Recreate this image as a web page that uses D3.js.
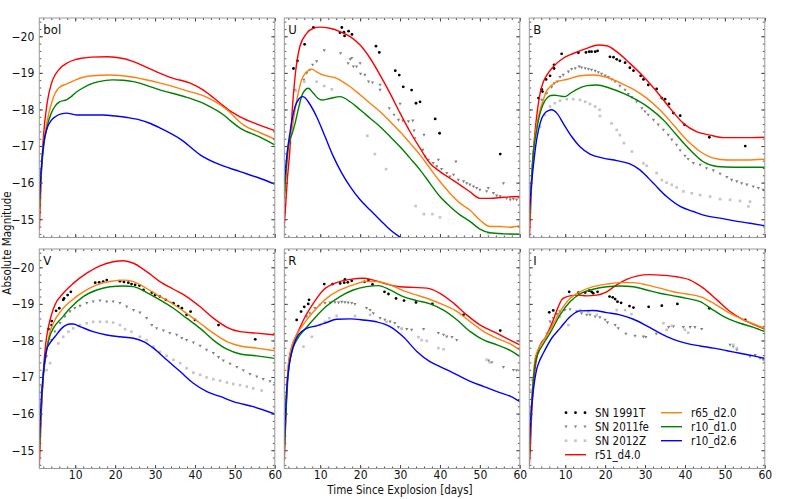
<!DOCTYPE html>
<html>
<head>
<meta charset="utf-8">
<script src="https://cdn.jsdelivr.net/npm/d3@7"></script>
<style>
  body { margin: 0; background: #fff; }
  text { font-family: "DejaVu Sans Condensed", "DejaVu Sans", sans-serif; font-stretch: condensed; fill: #111; }
</style>
</head>
<body>
<div id="chart"></div>
<script>
// bands and models
const bands = ["bol", "U", "B", "V", "R", "I"];
const modelNames = ["r51_d4.0", "r65_d2.0", "r10_d1.0", "r10_d2.6"];
const modelColors = ["#ff0000", "#ff7f0e", "#008000", "#0000ff"];
const obsNames = ["SN 1991T", "SN 2011fe", "SN 2012Z"];
const obsColors = ["#000000", "#808080", "#c4c4c4"];
const xTicks = [10, 20, 30, 40, 50, 60];
const yTicks = [-20, -19, -18, -17, -16, -15];

// model light curves, [day, absolute magnitude]
const bol_r51 = [[1,-14.7],[1.5,-16.2],[2,-17.2],[3,-18.2],[4,-18.7],[5,-18.95],[6,-19.1],[8,-19.27],[10,-19.36],[11.6,-19.4],[14,-19.43],[17.9,-19.44],[20.5,-19.42],[24.6,-19.31],[27.5,-19.17],[30.4,-19.03],[34.6,-18.85],[38.8,-18.72],[42.1,-18.53],[46.3,-18.17],[48.5,-17.98],[51.3,-17.8],[55.5,-17.6],[60,-17.42]];
const bol_r65 = [[1,-15.2],[1.5,-16.3],[2,-17.0],[3,-17.7],[4,-18.15],[5,-18.45],[6,-18.6],[7.9,-18.7],[10.1,-18.81],[12,-18.88],[14.3,-18.92],[18.4,-18.94],[24.6,-18.88],[31.3,-18.72],[38,-18.51],[43,-18.33],[46,-18.15],[48,-17.99],[52.1,-17.58],[56.2,-17.37],[60,-17.19]];
const bol_r10d1 = [[1,-15.3],[1.5,-16.3],[2,-16.9],[3,-17.55],[4,-17.9],[5,-18.1],[6,-18.2],[7.9,-18.27],[9,-18.35],[10,-18.45],[11.8,-18.58],[13.5,-18.68],[15.9,-18.76],[19.3,-18.81],[22,-18.8],[24.6,-18.76],[31.3,-18.53],[38,-18.33],[43,-18.12],[47.2,-17.85],[49,-17.68],[51.3,-17.49],[56.2,-17.25],[60,-17.03]];
const bol_r10d26 = [[1,-15.5],[1.5,-16.4],[2,-17.0],[3,-17.5],[4,-17.7],[5,-17.8],[6.5,-17.88],[7.9,-17.9],[9,-17.88],[10.4,-17.85],[14,-17.85],[17,-17.85],[20.1,-17.82],[23,-17.78],[26.3,-17.71],[28.5,-17.63],[31.3,-17.49],[36.6,-17.17],[41.3,-16.76],[45.3,-16.53],[51.3,-16.3],[56.2,-16.12],[60,-15.96]];

const U_r51 = [[1,-14.8],[1.7,-16.0],[2.4,-16.9],[3,-18.0],[3.7,-18.9],[4.9,-19.72],[6.6,-20.08],[8.3,-20.22],[9.9,-20.25],[12.4,-20.22],[14.95,-20.13],[17.5,-19.99],[20,-19.76],[22.5,-19.4],[25,-18.94],[27.5,-18.44],[30,-17.9],[32.5,-17.39],[35,-16.94],[37.5,-16.53],[40,-16.3],[42.5,-16.12],[45,-15.94],[47.5,-15.75],[50,-15.57],[52.5,-15.57],[55.9,-15.6],[60,-15.62]];
const U_r65 = [[1,-15.5],[2,-16.9],[3,-17.5],[3.7,-18.0],[4.5,-18.45],[5.3,-18.8],[6.6,-19.03],[7.9,-19.1],[9.1,-19.03],[10.8,-18.94],[14.1,-18.85],[17.5,-18.62],[20,-18.4],[22.5,-18.17],[25,-17.94],[27.5,-17.67],[30,-17.39],[32.5,-17.08],[35,-16.76],[37.5,-16.39],[40,-16.03],[42.5,-15.71],[45,-15.44],[47.5,-15.25],[50,-14.98],[52.5,-14.8],[55,-14.8],[57.5,-14.78],[60,-14.82]];
const U_r10d1 = [[1,-15.6],[2,-17.0],[3,-17.35],[3.7,-17.62],[4.5,-18.0],[5.3,-18.35],[6.1,-18.52],[7,-18.58],[8.3,-18.44],[9.5,-18.3],[10.4,-18.26],[12.4,-18.3],[14.95,-18.35],[17.5,-18.21],[20,-17.99],[22.5,-17.76],[25,-17.53],[27.5,-17.26],[30,-16.98],[32.5,-16.67],[35,-16.35],[37.5,-15.98],[40,-15.62],[42.5,-15.35],[45,-15.12],[47.5,-14.94],[50,-14.73],[52.5,-14.63],[56,-14.6],[60,-14.59]];
const U_r10d26 = [[1,-16.0],[1.7,-16.8],[2.4,-17.35],[3,-17.75],[3.7,-18.08],[4.6,-18.28],[5.5,-18.35],[6.2,-18.32],[7,-18.21],[9.1,-17.8],[11.2,-17.26],[13.3,-16.71],[15.4,-16.26],[17.5,-15.89],[20,-15.53],[22.5,-15.25],[25,-14.98],[27.5,-14.71],[30.4,-14.48],[32,-14.35]];

const B_r51 = [[1,-14.4],[1.3,-15.2],[1.8,-16.5],[2.4,-17.35],[3,-17.95],[3.7,-18.44],[4.5,-18.75],[5.4,-18.94],[7,-19.17],[9.5,-19.4],[12,-19.53],[15.4,-19.67],[18.3,-19.76],[20.4,-19.74],[22.9,-19.58],[26.2,-19.26],[29.6,-18.9],[32.9,-18.49],[36.3,-18.03],[39.6,-17.62],[43,-17.39],[46.3,-17.3],[49.7,-17.23],[53,-17.23],[56.3,-17.23],[60,-17.24]];
const B_r65 = [[1,-14.9],[1.5,-15.9],[2,-16.8],[2.8,-17.53],[3.6,-17.95],[4.5,-18.26],[5.3,-18.5],[6.2,-18.62],[7.9,-18.76],[10.4,-18.82],[13.7,-18.92],[17,-18.94],[20.4,-18.88],[23.7,-18.73],[27.1,-18.55],[30.4,-18.31],[33.7,-17.99],[37.1,-17.58],[40.4,-17.17],[43.8,-16.85],[47.1,-16.67],[50.5,-16.62],[55.5,-16.62],[60,-16.64]];
const B_r10d1 = [[1,-15.0],[1.5,-16.0],[2,-16.8],[2.8,-17.4],[3.7,-17.9],[4.5,-18.15],[5.4,-18.31],[6.4,-18.38],[7.4,-18.39],[8.6,-18.37],[9.9,-18.35],[11.4,-18.45],[12.9,-18.55],[15.4,-18.65],[17.9,-18.67],[21.2,-18.58],[24.6,-18.44],[27.9,-18.26],[31.2,-18.03],[34.6,-17.71],[37.9,-17.3],[41.3,-16.89],[44.6,-16.57],[48,-16.44],[52.1,-16.42],[60,-16.42]];
const B_r10d26 = [[1,-15.2],[1.5,-15.9],[2,-16.44],[2.6,-17.0],[3.3,-17.44],[4.1,-17.75],[4.9,-17.9],[5.8,-17.97],[6.6,-17.99],[7.9,-17.9],[9.5,-17.62],[11.6,-17.26],[13.7,-16.98],[16.2,-16.78],[19.5,-16.67],[22.9,-16.6],[26.2,-16.51],[28.7,-16.35],[32.1,-15.98],[35.4,-15.62],[38.8,-15.35],[42.1,-15.21],[45.4,-15.09],[48.8,-15.03],[52.1,-14.96],[56.3,-14.89],[60,-14.82]];

const V_r51 = [[1,-14.55],[1.5,-16.0],[2,-17.1],[2.6,-17.9],[3.3,-18.38],[4.1,-18.72],[4.9,-18.97],[7,-19.29],[9.5,-19.56],[12.9,-19.84],[16.2,-20.04],[19.5,-20.15],[22.1,-20.18],[24.6,-20.11],[27.9,-19.88],[31.2,-19.61],[34.6,-19.4],[37.9,-19.2],[41.3,-18.92],[44.6,-18.61],[48,-18.36],[51.3,-18.24],[55.5,-18.2],[60,-18.15]];
const V_r65 = [[1,-15.0],[1.5,-16.2],[2,-17.0],[2.8,-17.75],[3.6,-18.2],[4.5,-18.47],[6.6,-18.83],[8.7,-19.06],[12,-19.33],[15.4,-19.52],[18.7,-19.61],[22.1,-19.65],[24.6,-19.61],[27.9,-19.42],[31.2,-19.2],[34.6,-18.99],[37.9,-18.74],[41.3,-18.47],[44.6,-18.2],[48,-17.97],[51.3,-17.85],[55.5,-17.79],[60,-17.72]];
const V_r10d1 = [[1,-15.0],[1.5,-16.2],[2,-17.0],[2.8,-17.7],[3.6,-18.1],[4.5,-18.33],[6.6,-18.61],[8.7,-18.88],[12,-19.2],[15.4,-19.38],[18.7,-19.47],[22.1,-19.49],[24.6,-19.47],[27.9,-19.31],[31.2,-19.11],[34.6,-18.88],[37.9,-18.61],[41.3,-18.33],[44.6,-18.01],[48,-17.76],[51.3,-17.63],[55.5,-17.58],[60,-17.51]];
const V_r10d26 = [[1,-15.3],[1.5,-16.4],[2,-17.1],[2.8,-17.74],[3.8,-17.95],[4.9,-18.1],[6.6,-18.33],[8.7,-18.45],[9.5,-18.45],[11.2,-18.38],[14.5,-18.24],[17.9,-18.15],[21.2,-18.1],[24.6,-18.06],[27.1,-17.97],[29.6,-17.79],[32.9,-17.47],[36.3,-17.15],[39.6,-16.83],[43,-16.6],[46.3,-16.47],[49.6,-16.33],[54.6,-16.19],[60,-15.99]];

const R_r51 = [[1,-14.7],[1.2,-15.3],[1.6,-16.6],[2,-17.29],[2.8,-17.8],[3.7,-18.06],[4.7,-18.3],[5.8,-18.56],[8.3,-19.02],[10.8,-19.38],[14.1,-19.58],[17.5,-19.67],[20.8,-19.7],[23.3,-19.65],[26.7,-19.54],[30,-19.47],[33.3,-19.45],[36.7,-19.43],[40,-19.29],[43.4,-19.02],[46.7,-18.7],[50.1,-18.42],[53.4,-18.24],[56.7,-18.06],[60,-17.88]];
const R_r65 = [[1,-15.0],[1.5,-16.3],[2,-17.3],[2.4,-17.6],[3.2,-17.95],[4.1,-18.15],[6.6,-18.56],[9.1,-18.88],[11.6,-19.15],[14.95,-19.38],[18.3,-19.52],[21.6,-19.61],[24.1,-19.61],[27.5,-19.52],[30.8,-19.36],[34.2,-19.24],[37.5,-19.12],[40.9,-18.97],[44.3,-18.79],[47.6,-18.51],[51,-18.24],[54.3,-18.06],[57.7,-17.9],[60,-17.74]];
const R_r10d1 = [[1,-15.0],[1.5,-16.2],[2,-17.1],[2.4,-17.45],[3.2,-17.8],[4.1,-18.01],[6.6,-18.36],[9.1,-18.67],[11.6,-18.94],[14.95,-19.2],[18.3,-19.38],[21.6,-19.47],[24.6,-19.5],[27.5,-19.38],[30.8,-19.2],[34.2,-19.09],[37.5,-19.0],[40.9,-18.83],[44.3,-18.56],[47.6,-18.24],[51,-18.01],[54.3,-17.88],[57.7,-17.72],[60,-17.56]];
const R_r10d26 = [[1,-15.2],[1.6,-16.65],[2.2,-17.3],[2.8,-17.65],[3.6,-17.95],[4.5,-18.15],[6.6,-18.33],[9.1,-18.4],[11.6,-18.49],[14.1,-18.58],[17.5,-18.59],[20.8,-18.56],[24.1,-18.51],[27.5,-18.38],[30.8,-18.1],[34.2,-17.7],[37.5,-17.42],[40.9,-17.24],[44.3,-17.06],[47.6,-16.88],[51,-16.74],[54.3,-16.6],[57.7,-16.47],[60,-16.33]];

const I_r51 = [[1,-14.6],[1.2,-14.92],[1.6,-16.0],[2,-16.74],[2.6,-17.35],[3.3,-17.74],[4.1,-17.95],[4.9,-18.06],[6,-18.3],[7,-18.56],[8,-18.85],[9.1,-19.11],[10,-19.18],[11.2,-19.22],[13.3,-19.24],[15.4,-19.22],[17.9,-19.24],[20.4,-19.33],[22.9,-19.52],[25.4,-19.67],[27.9,-19.76],[31.2,-19.8],[34.6,-19.78],[37.9,-19.74],[41.3,-19.65],[44.6,-19.43],[48,-19.11],[51.3,-18.79],[54.7,-18.56],[58,-18.4],[60,-18.31]];
const I_r65 = [[1,-15.0],[1.5,-16.2],[2,-17.0],[2.4,-17.47],[3.2,-17.75],[4.1,-17.92],[6.2,-18.29],[8.7,-18.79],[11.2,-19.15],[13.7,-19.33],[17,-19.47],[20.4,-19.54],[23.7,-19.58],[27.1,-19.58],[30.4,-19.52],[33.7,-19.43],[37.1,-19.33],[40.4,-19.27],[43.8,-19.2],[47.1,-19.02],[50.5,-18.79],[53.8,-18.61],[57.2,-18.45],[60,-18.33]];
const I_r10d1 = [[1,-15.0],[1.5,-16.1],[2,-16.9],[2.4,-17.33],[3.2,-17.65],[4.1,-17.83],[6.2,-18.2],[8.7,-18.7],[11.2,-19.06],[13.7,-19.27],[17,-19.4],[20.4,-19.47],[23.7,-19.49],[27.1,-19.47],[30.4,-19.38],[33.7,-19.29],[37.1,-19.22],[40.4,-19.15],[43.8,-19.06],[47.1,-18.83],[50.5,-18.61],[53.8,-18.47],[57.2,-18.36],[60,-18.24]];
const I_r10d26 = [[1,-15.2],[1.6,-16.19],[2.2,-16.8],[2.8,-17.19],[3.6,-17.45],[4.5,-17.65],[6.6,-18.06],[8.7,-18.33],[11.2,-18.65],[13.7,-18.81],[17,-18.82],[20.4,-18.76],[23.7,-18.7],[27.1,-18.58],[30.4,-18.4],[33.7,-18.2],[37.1,-18.03],[40.4,-17.92],[43.8,-17.85],[47.1,-17.79],[50.5,-17.72],[53.8,-17.65],[57.2,-17.58],[60,-17.51]];

// observed supernovae, [day, absolute magnitude]
const U_91T = [[3.3,-19.12],[4.3,-19.33],[6.1,-19.78],[8.3,-20.24],[14.95,-20.1],[15.4,-20.24],[15.95,-20.11],[16.1,-20.01],[17.1,-20.14],[17.96,-20.05],[23.97,-19.73],[24.8,-19.56],[28.8,-19.06],[29.8,-18.94],[30.8,-18.62],[32.9,-18.53],[34,-18.17],[35,-18.21],[38.8,-17.74],[39.9,-17.35],[55.1,-16.78]];
const U_11fe = [[3.7,-18.53],[5.9,-18.81],[6.6,-18.99],[7.4,-19.08],[8.1,-19.22],[9.1,-19.31],[11,-19.61],[15.1,-19.53],[17,-19.26],[17.5,-19.37],[17.9,-19.4],[18.3,-19.17],[19.1,-19.17],[20,-19.26],[20.1,-18.97],[21.2,-18.94],[22.1,-18.76],[23.1,-18.73],[25,-18.67],[25,-18.53],[27.3,-18.03],[28.5,-17.85],[30,-18.15],[29.6,-17.71],[30.7,-17.69],[32.1,-17.67],[33.2,-17.69],[33.5,-17.42],[33.7,-17.21],[36,-17.3],[35.7,-16.89],[36.3,-16.71],[37.1,-16.62],[38.3,-16.53],[39.2,-16.44],[39.6,-16.62],[40.4,-16.37],[41.7,-16.26],[42.5,-16.16],[43.4,-16.21],[44,-16.57],[44.6,-16.07],[45.9,-16.03],[46.7,-15.98],[47.5,-15.94],[48.4,-15.89],[49.2,-15.85],[50,-15.8],[51.7,-15.76],[52.1,-15.85],[53.4,-15.71],[54.2,-15.64],[55.1,-15.62],[55.9,-15.98],[56.7,-15.57],[57.6,-15.53],[58.4,-15.55],[59.2,-15.53]];
const U_12Z = [[1.2,-15.98],[3.9,-18.51],[6,-18.76],[9.1,-18.76],[11,-18.64],[12.9,-18.55],[21.8,-17.28],[23.7,-16.78],[26.5,-16.37],[33.9,-15.36],[36,-15.14],[38.1,-15.14],[40,-15.05],[42.1,-14.52],[52.1,-14.62]];

const B_91T = [[3.3,-18.31],[4.1,-18.55],[4.3,-18.49],[5.2,-18.82],[6.2,-18.92],[7.2,-19.12],[7.2,-19.22],[9.1,-19.52],[13.3,-19.55],[15.2,-19.56],[16,-19.58],[16.6,-19.58],[17.5,-19.58],[18.1,-19.6],[21.2,-19.44],[22.1,-19.43],[22.9,-19.37],[23.7,-19.33],[25,-19.28],[26.2,-19.14],[27.1,-19.06],[28.9,-18.92],[29.6,-18.82],[30.8,-18.67],[32.9,-18.56],[34.2,-18.31],[35,-18.28],[36,-18.15],[37.1,-17.9],[38.8,-17.83],[39.9,-17.58],[46.1,-17.24],[55.1,-17.0]];
const B_11fe = [[4.1,-18.26],[5.4,-18.44],[6.6,-18.61],[7.3,-18.71],[8,-18.76],[8.7,-18.88],[9.5,-18.94],[10.8,-19.03],[11.6,-19.1],[12.5,-19.12],[13.5,-19.17],[14.1,-19.14],[15,-19.12],[15.8,-19.1],[16.6,-19.08],[17.5,-19.05],[18.3,-19.01],[19.1,-18.97],[20,-18.92],[20.8,-18.88],[21.6,-18.82],[22.5,-18.76],[23.7,-18.64],[25,-18.53],[25.8,-18.42],[26.7,-18.33],[27.9,-18.21],[29.2,-18.03],[30,-17.94],[30.8,-17.85],[32.1,-17.71],[33.3,-17.58],[34.6,-17.44],[35.8,-17.3],[36.7,-17.17],[37.9,-17.03],[38.8,-16.88],[40,-16.73],[40.8,-16.64],[42.1,-16.53],[43.8,-16.48],[45.4,-16.39],[47.1,-16.33],[48.8,-16.24],[50.5,-16.15],[51.7,-16.07],[53,-16.03],[54.2,-15.98],[55.5,-15.94],[57.1,-15.89],[58.4,-15.85],[59.6,-15.8]];
const B_12Z = [[3.7,-17.53],[4.9,-17.85],[6.2,-18.08],[7.4,-18.17],[8.7,-18.24],[10.4,-18.28],[12,-18.28],[13.7,-18.26],[15,-18.21],[16.2,-18.15],[17.5,-18.08],[18.6,-17.99],[18.7,-17.82],[21.6,-17.62],[22.9,-17.44],[23.7,-17.3],[24.7,-17.08],[26.7,-16.85],[29.6,-16.53],[30.4,-16.46],[32.9,-16.26],[34.2,-16.07],[35.4,-16.0],[36.7,-15.94],[37.9,-15.87],[39.6,-15.76],[41.7,-15.71],[43.8,-15.66],[46.3,-15.62],[48.8,-15.55],[51.3,-15.53],[53.8,-15.5],[56.3,-15.48],[55.9,-15.35]];

const V_91T = [[3.3,-18.31],[4.1,-18.53],[4.1,-18.42],[5.2,-18.81],[6,-18.88],[7,-19.11],[7.2,-19.15],[8.1,-19.24],[8.9,-19.33],[15,-19.58],[16,-19.59],[17,-19.61],[17.9,-19.65],[21.2,-19.62],[22.2,-19.6],[23.3,-19.58],[24.1,-19.54],[25,-19.52],[26.1,-19.5],[27.1,-19.38],[29.2,-19.31],[30,-19.24],[31.2,-19.2],[32.7,-19.11],[34.6,-19.02],[35.8,-18.94],[36.7,-18.88],[37.9,-18.7],[38.9,-18.79],[40,-18.56],[45.9,-18.42],[55.1,-18.03]];
const V_11fe = [[2.8,-17.56],[4.1,-18.01],[4.9,-18.24],[6.2,-18.47],[7.4,-18.65],[8.7,-18.79],[9.9,-18.88],[11.2,-18.94],[12.9,-19.02],[14.5,-19.06],[16.2,-19.09],[17.9,-19.06],[19.5,-19.06],[21.2,-19.02],[22.9,-18.92],[24.6,-18.83],[26.2,-18.76],[27.9,-18.61],[29.2,-18.42],[30.4,-18.33],[32.1,-18.27],[33.7,-18.2],[35.4,-18.15],[36.7,-18.06],[37.9,-18.01],[39.6,-17.94],[41.3,-17.85],[42.9,-17.74],[44.6,-17.65],[45.9,-17.54],[47.1,-17.45],[48.8,-17.36],[50.5,-17.27],[52.1,-17.18],[53.8,-17.08],[55.5,-17.01],[57.1,-16.94],[58.8,-16.88],[60,-16.83]];
const V_12Z = [[1,-16.56],[1.6,-16.74],[2.8,-17.19],[3.7,-17.38],[5.8,-17.92],[7,-18.1],[8.3,-18.24],[9.5,-18.33],[11.2,-18.42],[12.9,-18.47],[14.5,-18.51],[16.2,-18.51],[17.9,-18.51],[19.5,-18.49],[21.2,-18.42],[22.5,-18.31],[24.1,-18.24],[26.2,-18.1],[27.9,-18.01],[29.6,-17.83],[31.2,-17.69],[32.9,-17.58],[34.6,-17.47],[36.3,-17.38],[37.9,-17.24],[39.6,-17.12],[41.3,-17.06],[42.9,-16.99],[44.6,-16.94],[46.3,-16.9],[48,-16.85],[49.6,-16.81],[51.3,-16.78],[53,-16.74],[54.6,-16.69],[56.7,-16.63]];

const R_91T = [[4.1,-18.56],[5.2,-18.79],[6,-18.92],[7,-19.0],[7.2,-19.11],[11,-19.54],[13.1,-19.54],[15,-19.56],[16,-19.58],[16.2,-19.67],[16.9,-19.59],[17.9,-19.63],[21.1,-19.6],[22.1,-19.65],[23.1,-19.53],[26.1,-19.33],[27.1,-19.27],[29,-19.15],[31,-19.09],[34,-19.04],[38.1,-19.0],[45.9,-18.7],[55.1,-18.27]];
const R_11fe = [[6.6,-18.65],[7.4,-18.74],[8.7,-18.88],[9.9,-18.97],[11.2,-19.02],[12.5,-19.03],[13.7,-19.04],[14.6,-19.03],[15.4,-19.05],[16.2,-19.04],[17,-19.03],[17.9,-19.02],[18.7,-18.99],[21.6,-18.88],[22.5,-18.83],[23.3,-18.74],[25,-18.61],[26.2,-18.56],[27.5,-18.51],[28.7,-18.47],[29.6,-18.36],[30.4,-18.31],[31.7,-18.31],[32.9,-18.29],[35.9,-18.31],[39.6,-18.2],[40.9,-18.15],[41.7,-18.1],[43,-18.09],[44.2,-18.01],[52.2,-17.45],[53,-17.4],[55.9,-17.27],[58.4,-17.19],[59.2,-17.18]];
const R_12Z = [[1.2,-16.47],[5.8,-17.83],[7.9,-18.1],[9.9,-18.42],[11.2,-18.51],[12.3,-18.61],[14.1,-18.67],[18.7,-18.67],[22.5,-18.7],[26.6,-18.51],[30.4,-18.33],[34.6,-18.09],[35.4,-18.01],[36.7,-17.99],[39.6,-17.79],[40.9,-17.76],[51.7,-17.47],[52.5,-17.4]];

const I_91T = [[6,-18.77],[7,-18.82],[11,-19.33],[13.3,-19.31],[15,-19.31],[16,-19.36],[16.6,-19.33],[17,-19.29],[18.1,-19.33],[21.1,-19.2],[21.9,-19.18],[22.5,-19.13],[23.1,-19.06],[24,-19.03],[26.1,-18.94],[27.1,-18.9],[30.9,-18.92],[34.2,-18.95],[38.1,-19.0],[46.1,-18.88],[55.1,-18.56]];
const I_11fe = [[6.2,-18.51],[7,-18.61],[7.9,-18.72],[8.7,-18.79],[9.9,-18.83],[11.2,-18.85],[12.9,-18.79],[14.1,-18.74],[15.4,-18.7],[16.2,-18.7],[17.5,-18.65],[18.7,-18.63],[20,-18.56],[20.6,-18.49],[22.5,-18.42],[23.3,-18.33],[25.2,-18.18],[27.5,-18.12],[29.6,-18.1],[30.2,-18.09],[32.8,-18.18],[35.9,-18.36],[37.1,-18.38],[39.6,-18.36],[41.3,-18.36],[42.5,-18.36],[44.2,-18.31],[51.3,-17.88],[52.1,-17.83],[53,-17.74],[56.3,-17.56],[57.6,-17.6],[58.8,-17.51],[59.6,-17.47]];
const I_12Z = [[1.2,-16.65],[1.6,-16.92],[3.3,-17.69],[5.4,-18.2],[6.6,-18.47],[8.7,-18.65],[10.8,-18.42],[13.7,-18.83],[15.8,-18.79],[17.9,-18.7],[22.9,-18.83],[25,-18.83],[26.6,-18.72],[34.6,-18.47],[35.4,-18.29],[36.7,-18.4],[40,-18.29],[40.8,-18.21],[52.1,-17.88],[53,-17.79]];

const modelCurves = {
  bol: [bol_r51, bol_r65, bol_r10d1, bol_r10d26],
  U: [U_r51, U_r65, U_r10d1, U_r10d26],
  B: [B_r51, B_r65, B_r10d1, B_r10d26],
  V: [V_r51, V_r65, V_r10d1, V_r10d26],
  R: [R_r51, R_r65, R_r10d1, R_r10d26],
  I: [I_r51, I_r65, I_r10d1, I_r10d26]
};
const obsData = {
  bol: [[], [], []],
  U: [U_91T, U_11fe, U_12Z],
  B: [B_91T, B_11fe, B_12Z],
  V: [V_91T, V_11fe, V_12Z],
  R: [R_91T, R_11fe, R_12Z],
  I: [I_91T, I_11fe, I_12Z]
};

const width = 789;
const height = 499;
const colX = [39.3, 284.3, 529.3];
const rowY = [18, 249];
const panelW = 235.5;
const panelH = 219.5;

const svg = d3.select("#chart").append("svg")
  .attr("width", width)
  .attr("height", height)
  .attr("viewBox", [0, 0, width, height])
  .style("background", "white");

const x = d3.scaleLinear().domain([1, 60]).range([0, panelW]);
const y = d3.scaleLinear().domain([-20.5, -14.5]).range([0, panelH]);

const minus = d => String(d).replace("-", "\u2212");
const xMinor = d3.range(2, 61, 2);
const yMinor = d3.range(-20.4, -14.5, 0.2).map(v => +v.toFixed(1));

// draw one marker symbol of an observed set
function drawMarker(g, k, px, py) {
  if (k === 0) {
    g.append("circle").attr("cx", px).attr("cy", py).attr("r", 1.4).attr("fill", obsColors[0]);
  } else if (k === 1) {
    g.append("path")
      .attr("d", `M${px - 1.6},${py - 1.2}L${px + 1.6},${py - 1.2}L${px},${py + 1.6}Z`)
      .attr("fill", obsColors[1]);
  } else {
    g.append("rect").attr("x", px - 1.3).attr("y", py - 1.3)
      .attr("width", 2.6).attr("height", 2.6).attr("fill", obsColors[2]);
  }
}

const line = d3.line()
  .x(d => x(d[0]))
  .y(d => y(d[1]))
  .curve(d3.curveMonotoneX);

bands.forEach((band, i) => {
  const col = i % 3, row = Math.floor(i / 3);
  const g = svg.append("g").attr("transform", `translate(${colX[col]},${rowY[row]})`);

  g.append("clipPath").attr("id", "clip" + i)
    .append("rect").attr("width", panelW).attr("height", panelH);

  const plot = g.append("g").attr("clip-path", `url(#clip${i})`);

  // observations first, model lines on top
  obsData[band].forEach((pts, k) => {
    const og = plot.append("g");
    pts.forEach(d => drawMarker(og, k, x(d[0]), y(d[1])));
  });

  modelCurves[band].forEach((pts, k) => {
    plot.append("path")
      .datum(pts)
      .attr("fill", "none")
      .attr("stroke", modelColors[k])
      .attr("stroke-width", 1.4)
      .attr("stroke-linejoin", "round")
      .attr("d", line);
  });

  // axes, ticks pointing inward on all four sides
  const showX = row === 1, showY = col === 0;
  const axes = [
    [d3.axisBottom(x).tickValues(xTicks), `translate(0,${panelH})`, showX],
    [d3.axisTop(x).tickValues(xTicks), null, false],
    [d3.axisLeft(y).tickValues(yTicks), null, showY],
    [d3.axisRight(y).tickValues(yTicks), `translate(${panelW},0)`, false]
  ];
  const minors = [
    [d3.axisBottom(x).tickValues(xMinor), `translate(0,${panelH})`],
    [d3.axisTop(x).tickValues(xMinor), null],
    [d3.axisLeft(y).tickValues(yMinor), null],
    [d3.axisRight(y).tickValues(yMinor), `translate(${panelW},0)`]
  ];
  minors.forEach(([ax, tr]) => {
    const a = g.append("g").attr("transform", tr)
      .call(ax.tickSize(-2).tickFormat(""));
    a.select(".domain").remove();
    a.selectAll("line").attr("stroke", "#555");
  });
  axes.forEach(([ax, tr, labels]) => {
    const a = g.append("g").attr("transform", tr)
      .call(ax.tickSize(-3.5).tickPadding(labels && tr ? 2 : 5)
        .tickFormat(labels ? minus : ""));
    a.select(".domain").remove();
    a.selectAll("line").attr("stroke", "#444");
    a.selectAll("text").attr("font-size", 12).attr("fill", "#222")
      .style("font-family", null);
  });

  g.append("rect")
    .attr("width", panelW).attr("height", panelH)
    .attr("fill", "none").attr("stroke", "#9a9a9a").attr("stroke-width", 1);

  g.append("text")
    .attr("x", 4).attr("y", 16)
    .attr("font-size", 13)
    .text(band);
});

// shared axis titles
svg.append("text")
  .attr("x", 400).attr("y", 494)
  .attr("text-anchor", "middle")
  .attr("font-size", 11.5)
  .text("Time Since Explosion [days]");

svg.append("text")
  .attr("transform", "translate(11,243) rotate(-90)")
  .attr("text-anchor", "middle")
  .attr("font-size", 11.5)
  .text("Absolute Magnitude");

// legend inside the I panel
const legend = svg.append("g").attr("transform", "translate(566,412.7)");
const legendRows = 14;
obsNames.forEach((name, k) => {
  const lg = legend.append("g").attr("transform", `translate(0,${k * legendRows})`);
  [0, 9.5, 19].forEach(dx => drawMarker(lg, k, dx, 0));
  lg.append("text").attr("x", 29).attr("y", 0).attr("dy", "0.35em")
    .attr("font-size", 11.5).text(name);
});
modelNames.forEach((name, k) => {
  const slot = k + 3;
  const colOff = slot < 4 ? 0 : 96;
  const rowOff = slot < 4 ? slot : slot - 4;
  const lg = legend.append("g").attr("transform", `translate(${colOff},${rowOff * legendRows})`);
  lg.append("line").attr("x1", -1).attr("x2", 20)
    .attr("stroke", modelColors[k]).attr("stroke-width", 1.4);
  lg.append("text").attr("x", 29).attr("y", 0).attr("dy", "0.35em")
    .attr("font-size", 11.5).text(name);
});
</script>
</body>
</html>
